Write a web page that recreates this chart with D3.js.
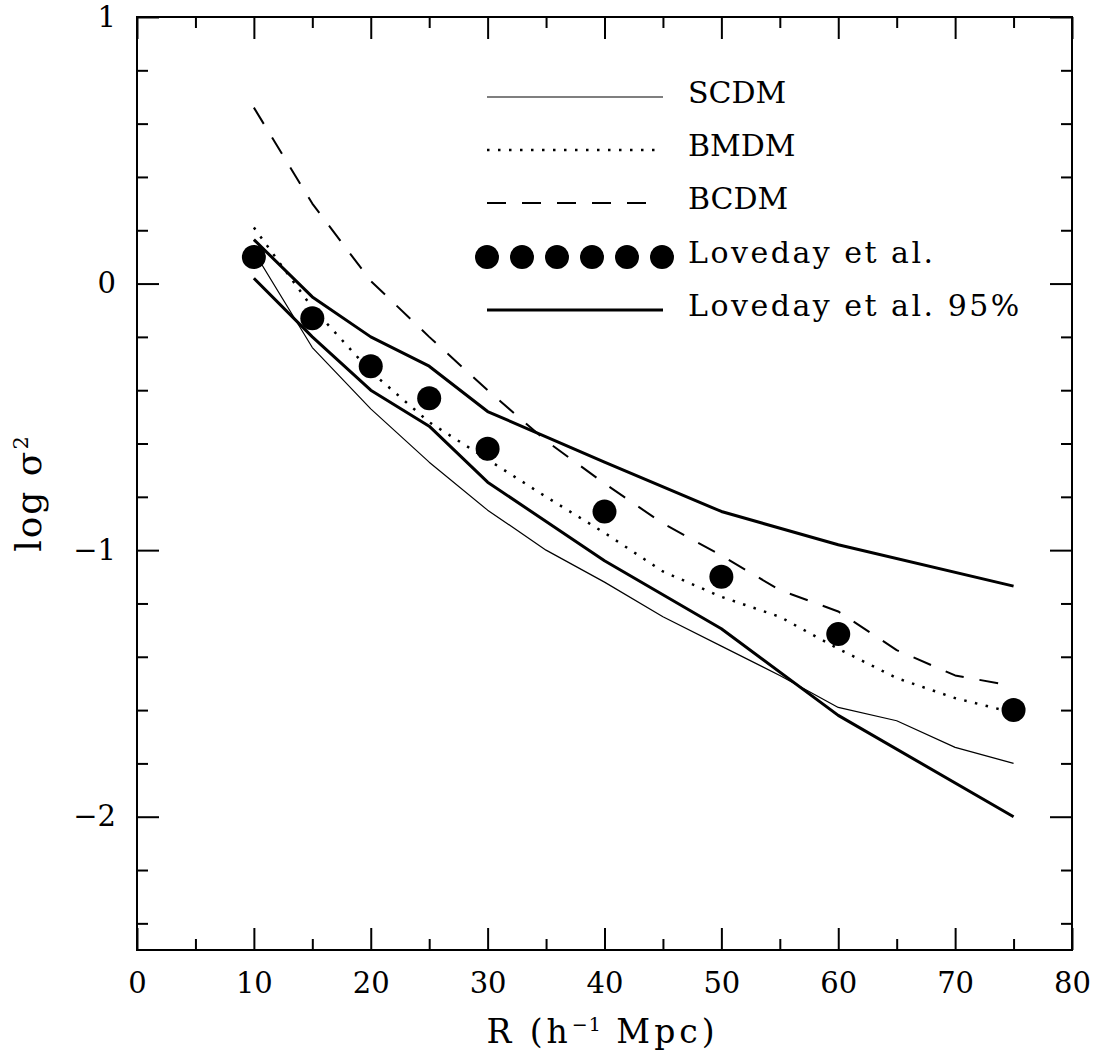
<!DOCTYPE html>
<html>
<head>
<meta charset="utf-8">
<script src="https://cdn.jsdelivr.net/npm/d3@7"></script>
<style>
  html, body { margin: 0; padding: 0; background: #fff; }
  svg { display: block; }
  text { font-family: "DejaVu Serif", serif; fill: #000; }
</style>
</head>
<body>
<script>
// Model curves, sampled every 5 h^-1 Mpc
const modelR = [10, 15, 20, 25, 30, 35, 40, 45, 50, 55, 60, 65, 70, 75];
const scdm = [0.12, -0.24, -0.47, -0.67, -0.85, -1.00, -1.12, -1.25, -1.36, -1.47, -1.59, -1.64, -1.74, -1.80];
const bmdm = [0.21, -0.09, -0.33, -0.52, -0.66, -0.80, -0.935, -1.08, -1.175, -1.25, -1.37, -1.48, -1.555, -1.61];
const bcdm = [0.66, 0.30, 0.01, -0.20, -0.40, -0.59, -0.75, -0.90, -1.02, -1.15, -1.23, -1.375, -1.47, -1.51];

// Loveday et al. measurements and their 95% envelope
const lovedayR = [10, 15, 20, 25, 30, 40, 50, 60, 75];
const loveday = [0.10, -0.13, -0.31, -0.43, -0.62, -0.855, -1.10, -1.315, -1.60];
const loveday95Upper = [0.165, -0.05, -0.20, -0.31, -0.48, -0.67, -0.855, -0.98, -1.135];
const loveday95Lower = [0.02, -0.20, -0.40, -0.535, -0.745, -1.04, -1.295, -1.62, -2.00];

// Axis ticks
const xMajorTicks = [0, 10, 20, 30, 40, 50, 60, 70, 80];
const xMinorTicks = [5, 15, 25, 35, 45, 55, 65, 75];
const yMajorTicks = [-2, -1, 0, 1];
const yMinorTicks = [-2.4, -2.2, -1.8, -1.6, -1.4, -1.2, -0.8, -0.6, -0.4, -0.2, 0.2, 0.4, 0.6, 0.8];

const legendLabels = ["SCDM", "BMDM", "BCDM", "Loveday et al.", "Loveday et al. 95%"];

const W = 1097, H = 1062;
const plot = { left: 137, right: 1072, top: 17, bottom: 950 };

const svg = d3.select("body").append("svg").attr("width", W).attr("height", H);

const x = d3.scaleLinear().domain([0, 80]).range([plot.left, plot.right]);
const y = d3.scaleLinear().domain([-2.5, 1]).range([plot.bottom, plot.top]);

const MAJOR = 22, MINOR = 11;

function styleAxis(g) {
  g.select(".domain").remove();
  g.selectAll(".tick line").attr("stroke", "#000").attr("stroke-width", 2);
  g.selectAll(".tick text").attr("font-size", 29).attr("font-family", "DejaVu Serif");
}

// bottom axis with labels
svg.append("g").attr("transform", `translate(0,${plot.bottom})`)
  .call(d3.axisBottom(x).tickValues(xMajorTicks).tickSize(-MAJOR).tickSizeOuter(0).tickPadding(22).tickFormat(d3.format("d")))
  .call(styleAxis);
svg.append("g").attr("transform", `translate(0,${plot.bottom})`)
  .call(d3.axisBottom(x).tickValues(xMinorTicks).tickSize(-MINOR).tickSizeOuter(0).tickFormat(""))
  .call(styleAxis);
// top mirror ticks
svg.append("g").attr("transform", `translate(0,${plot.top})`)
  .call(d3.axisTop(x).tickValues(xMajorTicks).tickSize(-MAJOR).tickSizeOuter(0).tickFormat(""))
  .call(styleAxis);
svg.append("g").attr("transform", `translate(0,${plot.top})`)
  .call(d3.axisTop(x).tickValues(xMinorTicks).tickSize(-MINOR).tickSizeOuter(0).tickFormat(""))
  .call(styleAxis);
// left axis with labels
svg.append("g").attr("transform", `translate(${plot.left},0)`)
  .call(d3.axisLeft(y).tickValues(yMajorTicks).tickSize(-MAJOR).tickSizeOuter(0).tickPadding(21).tickFormat(d3.format("d")))
  .call(styleAxis);
svg.append("g").attr("transform", `translate(${plot.left},0)`)
  .call(d3.axisLeft(y).tickValues(yMinorTicks).tickSize(-MINOR).tickSizeOuter(0).tickFormat(""))
  .call(styleAxis);
// right mirror ticks
svg.append("g").attr("transform", `translate(${plot.right},0)`)
  .call(d3.axisRight(y).tickValues(yMajorTicks).tickSize(-MAJOR).tickSizeOuter(0).tickFormat(""))
  .call(styleAxis);
svg.append("g").attr("transform", `translate(${plot.right},0)`)
  .call(d3.axisRight(y).tickValues(yMinorTicks).tickSize(-MINOR).tickSizeOuter(0).tickFormat(""))
  .call(styleAxis);

// frame
svg.append("rect")
  .attr("x", plot.left).attr("y", plot.top)
  .attr("width", plot.right - plot.left).attr("height", plot.bottom - plot.top)
  .attr("fill", "none").attr("stroke", "#000").attr("stroke-width", 2);

// line styles
const styles = {
  scdm: { width: 1.2, dash: null },
  bmdm: { width: 2.5, dash: "2.5,8.5" },
  bcdm: { width: 2, dash: "19,16" },
  band: { width: 3, dash: null }
};

const line = d3.line().x(d => x(d[0])).y(d => y(d[1]));

function drawCurve(rs, vals, st) {
  svg.append("path")
    .datum(rs.map((r, i) => [r, vals[i]]))
    .attr("d", line)
    .attr("fill", "none")
    .attr("stroke", "#000")
    .attr("stroke-width", st.width)
    .attr("stroke-linejoin", "round")
    .attr("stroke-dasharray", st.dash);
}

drawCurve(modelR, scdm, styles.scdm);
drawCurve(modelR, bmdm, styles.bmdm);
drawCurve(modelR, bcdm, styles.bcdm);
drawCurve(lovedayR, loveday95Upper, styles.band);
drawCurve(lovedayR, loveday95Lower, styles.band);

// measured points
svg.append("g").selectAll("circle")
  .data(lovedayR.map((r, i) => [r, loveday[i]]))
  .join("circle")
  .attr("cx", d => x(d[0])).attr("cy", d => y(d[1]))
  .attr("r", 12).attr("fill", "#000");

// legend
const legend = svg.append("g");
const legX0 = 487, legX1 = 663, legTextX = 688;
const legRows = [97, 150, 203, 257, 310];
const legStyles = [styles.scdm, styles.bmdm, styles.bcdm, null, styles.band];
const legSpacing = [0, 0, 0, 2.5, 2.5];

legendLabels.forEach((lab, i) => {
  const ly = legRows[i];
  const st = legStyles[i];
  if (st) {
    legend.append("line")
      .attr("x1", legX0).attr("x2", st.dash && st.width === 2 ? 650 : legX1)
      .attr("y1", ly).attr("y2", ly)
      .attr("stroke", "#000").attr("stroke-width", st.width)
      .attr("stroke-dasharray", st.dash);
  } else {
    legend.append("g").selectAll("circle")
      .data(d3.range(6))
      .join("circle")
      .attr("cx", k => legX0 + k * 35).attr("cy", ly)
      .attr("r", 12).attr("fill", "#000");
  }
  legend.append("text")
    .attr("x", legTextX).attr("y", ly + 6)
    .attr("font-size", 30)
    .attr("letter-spacing", legSpacing[i])
    .text(lab);
});

// axis titles
const xt = svg.append("text")
  .attr("x", (plot.left + plot.right) / 2 - 2).attr("y", 1043)
  .attr("text-anchor", "middle").attr("font-size", 33).attr("letter-spacing", 4);
xt.append("tspan").text("R (h");
xt.append("tspan").attr("dy", -12).attr("font-size", 19).attr("letter-spacing", 1).text("−1");
xt.append("tspan").attr("dy", 12).text(" Mpc)");

const yt = svg.append("text")
  .attr("transform", `translate(41,${493}) rotate(-90)`)
  .attr("text-anchor", "middle").attr("font-size", 36).attr("letter-spacing", 2);
yt.append("tspan").text("log σ");
yt.append("tspan").attr("dy", -13).attr("font-size", 21).text("2");
</script>
</body>
</html>
